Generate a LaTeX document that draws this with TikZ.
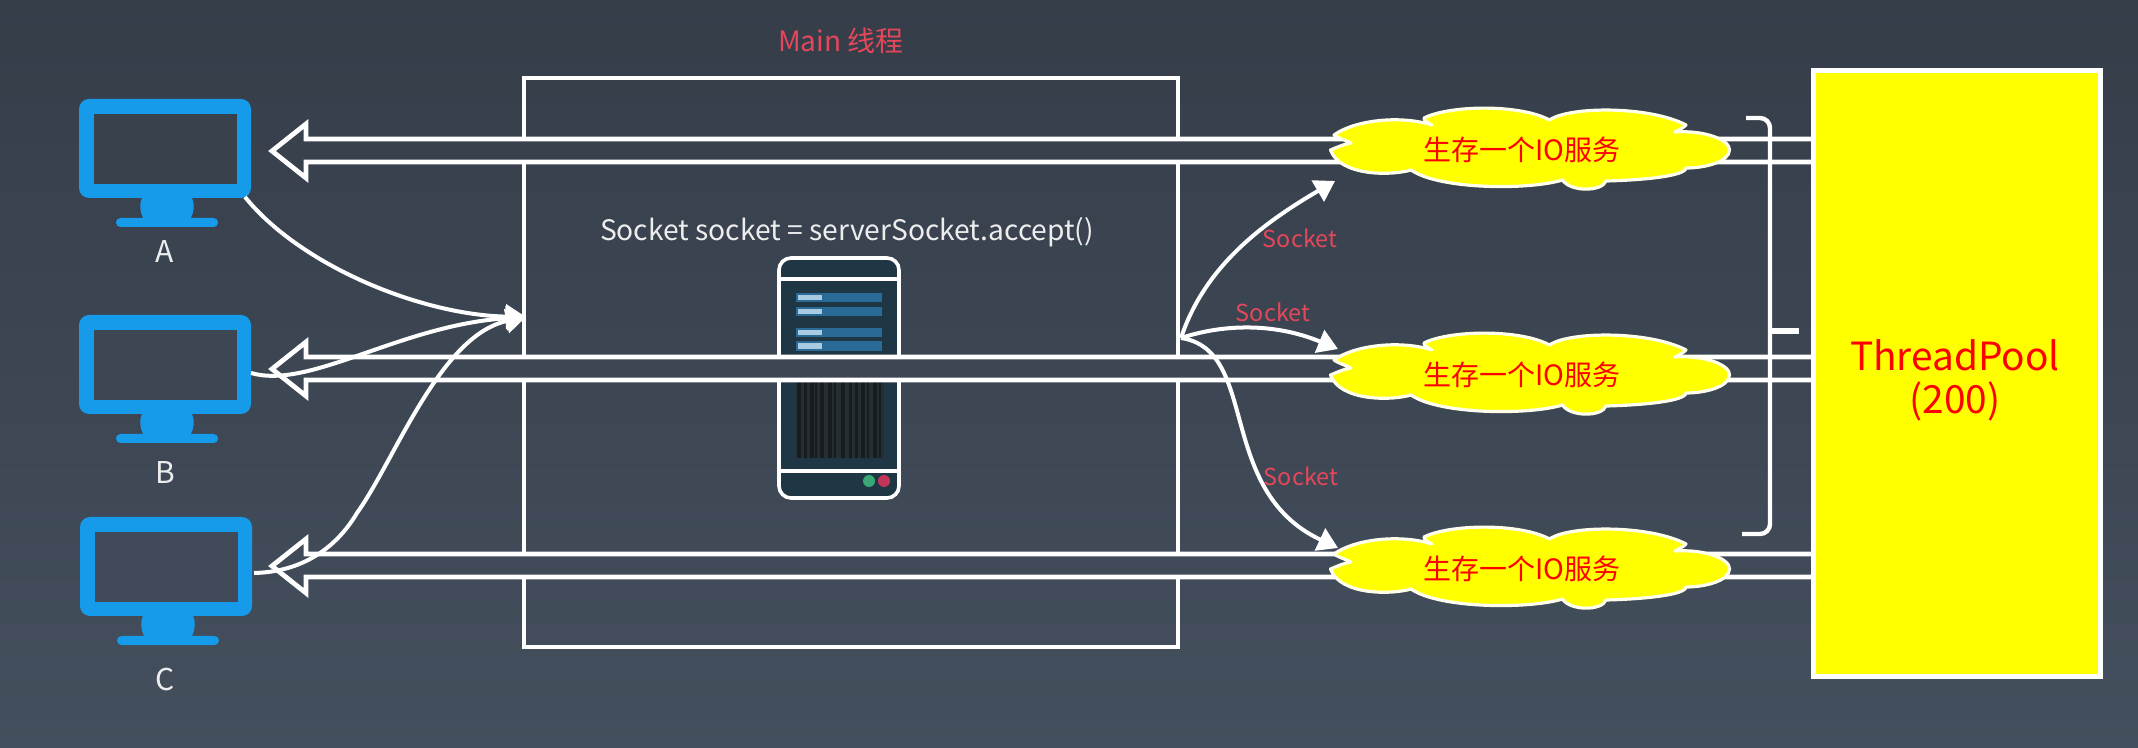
\documentclass[tikz,border=0pt]{standalone}
\usepackage{fontspec}
\setmainfont{Noto Sans CJK SC}
\usetikzlibrary{arrows.meta}
\definecolor{bgtop}{HTML}{353D49}
\definecolor{bgbot}{HTML}{444F5D}
\definecolor{bgA}{HTML}{39414D}
\definecolor{bgB}{HTML}{3D4653}
\definecolor{bgC}{HTML}{404A58}
\definecolor{monblue}{HTML}{169BEA}
\definecolor{softred}{HTML}{E5475A}
\definecolor{srvdark}{HTML}{1F3644}
\definecolor{srvbar}{HTML}{2A6A96}
\definecolor{srvlight}{HTML}{A8CBE2}
\definecolor{srvblack}{HTML}{171C1F}
\definecolor{srvgrey}{HTML}{262E33}
\definecolor{lampgreen}{HTML}{3AA876}
\definecolor{lampred}{HTML}{C2345A}
\definecolor{pureyellow}{HTML}{FFFF00}
\definecolor{purered}{HTML}{FF0000}
\tikzset{
  flow/.style={draw=white,line width=2pt,-{Triangle[length=10pt,width=12pt,fill=white]}},
  plainlabel/.style={text=white!93!black,inner sep=0pt,font=\fontsize{14.1}{17}\selectfont},
  redlabel/.style={text=softred,inner sep=0pt,font=\fontsize{11.7}{15}\selectfont},
  monitor/.pic={
    \fill[monblue,rounded corners=5pt] (0,0) rectangle (172,99);
    \fill[#1] (15,15) rectangle (158,85);
    \fill[monblue] (63,99) -- (113,99) .. controls (116,106) and (115,112) .. (112,119) -- (64,119) .. controls (61,112) and (60,106) .. (63,99) -- cycle;
    \fill[monblue,rounded corners=2.2pt] (37,119) rectangle (139,128);
  },
  bigarrow/.pic={
    \filldraw[fill=#1,draw=white,line join=miter,line width=2.4pt]
      (0,0) -- (34,-27) -- (34,-12) -- (1545,-12) -- (1545,11) -- (34,11) -- (34,27) -- cycle;
  },
  iocloud/.pic={
    \filldraw[fill=pureyellow,draw=white!92!pureyellow,line width=1.6pt,line join=round]
      (-196,-13) .. controls (-175,-28) and (-130,-33) .. (-98,-23)
      .. controls (-102,-25) and (-106,-27) .. (-106,-30)
      .. controls (-80,-43) and (-10,-44) .. (19.5,-28)
      .. controls (40,-42) and (120,-42) .. (156,-23)
      .. controls (153,-20) and (149,-18) .. (145,-16)
      .. controls (175,-18) and (200,-8) .. (199.5,2)
      .. controls (199,14) and (175,20) .. (156,20)
      .. controls (155,28) and (115,32) .. (76,33)
      .. controls (72,44) and (40,44) .. (32.5,32)
      .. controls (0,42) and (-90,42) .. (-119,22)
      .. controls (-140,28) and (-190,28) .. (-199.5,2)
      .. controls (-190,-2) and (-185,-4) .. (-179,-5)
      .. controls (-185,-8) and (-192,-10) .. cycle;
    \node[text=purered,inner sep=0pt,font=\fontsize{14}{18}\selectfont] (-label) at (-8,2) {生存一个IO服务};
  }
}
\begin{document}
\begin{tikzpicture}[x=0.5pt,y=-0.5pt]
\useasboundingbox (0,0) rectangle (2138,748);
\fill[top color=bgtop,bottom color=bgbot] (0,0) rectangle (2138,748);

% title
\node[redlabel,font=\fontsize{14}{17}\selectfont] (title) at (841,41) {Main 线程};

% main box
\node[draw=white,line width=2.4pt,minimum width=327pt,minimum height=284.5pt,inner sep=0pt,outer sep=0pt,anchor=north west] (mainbox) at (524,78) {};
\node[plainlabel] (accept) at (847,232) {Socket socket = serverSocket.accept()};

% server
\filldraw[fill=srvdark,draw=white,line width=1.8pt,rounded corners=6pt] (779,258) rectangle (899,498);
\draw[white,line width=1.8pt] (779,279) -- (899,279) (779,471) -- (899,471);
\foreach \ya/\yb in {293/302,307/316,328/337,341/351}{
  \fill[srvbar] (796,\ya) rectangle (882,\yb);
  \fill[srvlight] (798,\ya+2) rectangle (822,\yb-2);
}
\fill[srvgrey] (796,380) rectangle (884,458);
\foreach \xa/\xb in {797/801,804/807,810/814,815/817,820/824,828/832,834/836,841/845,849/852,855/858,861/865,867/869,873/877,879/881}{
  \fill[srvblack] (\xa,380) rectangle (\xb,458);
}
\fill[lampgreen] (869,481) circle (6);
\fill[lampred] (884,481) circle (6);

% monitors
\pic (monA) at (79,99) {monitor=bgA};
\pic (monB) at (79,315) {monitor=bgB};
\pic (monC) at (80,517) {monitor=bgC};
\node[plainlabel,font=\fontsize{15}{18}\selectfont] (labA) at (165,252) {A};
\node[plainlabel,font=\fontsize{15}{18}\selectfont] (labB) at (165,473) {B};
\node[plainlabel,font=\fontsize{15}{18}\selectfont] (labC) at (165,680) {C};

% double arrows
\pic (arrA) at (272,151) {bigarrow=bgA};
\pic (arrB) at (272,369) {bigarrow=bgB};
\pic (arrC) at (272,566) {bigarrow=bgC};

% connector ends
\coordinate (outA) at (245,197);
\coordinate (outB) at (251,373);
\coordinate (outC) at (254,573);
\coordinate (midC) at (357,513);
\coordinate (inMain) at (526,317);
\coordinate (outMain) at (1181,338);
\coordinate (toCloudA) at (1335,181);
\coordinate (toCloudB) at (1338,349);
\coordinate (toCloudC) at (1338,548);

% clients to main
\draw[flow] (outA) .. controls (300,265) and (420,315) .. (inMain);
\draw[flow] (outB) .. controls (310,390) and (400,325) .. (inMain);
\draw[flow] (outC) .. controls (300,572) and (335,550) .. (midC) .. controls (395,460) and (440,335) .. (inMain);

% main to workers
\draw[flow] (outMain) .. controls (1205,265) and (1265,222) .. (toCloudA);
\draw[flow] (outMain) .. controls (1230,322) and (1280,325) .. (toCloudB);
\draw[flow] (outMain) .. controls (1260,350) and (1215,490) .. (toCloudC);

\node[redlabel] (sockA) at (1300,238) {Socket};
\node[redlabel] (sockB) at (1273,312) {Socket};
\node[redlabel] (sockC) at (1301,476) {Socket};

% clouds
\pic (cloudA) at (1530,148) {iocloud};
\pic (cloudB) at (1530,373) {iocloud};
\pic (cloudC) at (1530,567) {iocloud};

% bracket
\draw[white,line width=2.2pt,rounded corners=5pt] (1746,118) -- (1770,118) -- (1770,534) -- (1742,534);
\draw[white,line width=3pt] (1770,331) -- (1799,331);

% thread pool
\node[draw=white,fill=pureyellow,line width=2.5pt,minimum width=143.5pt,minimum height=302.5pt,inner sep=0pt,outer sep=0pt,anchor=north west] (pool) at (1813,71) {};
\node[text=purered,inner sep=0pt,align=center,font=\fontsize{19.4}{21.5}\selectfont] (poolText) at (1955,380) {ThreadPool\\(200)};
\end{tikzpicture}
\end{document}
